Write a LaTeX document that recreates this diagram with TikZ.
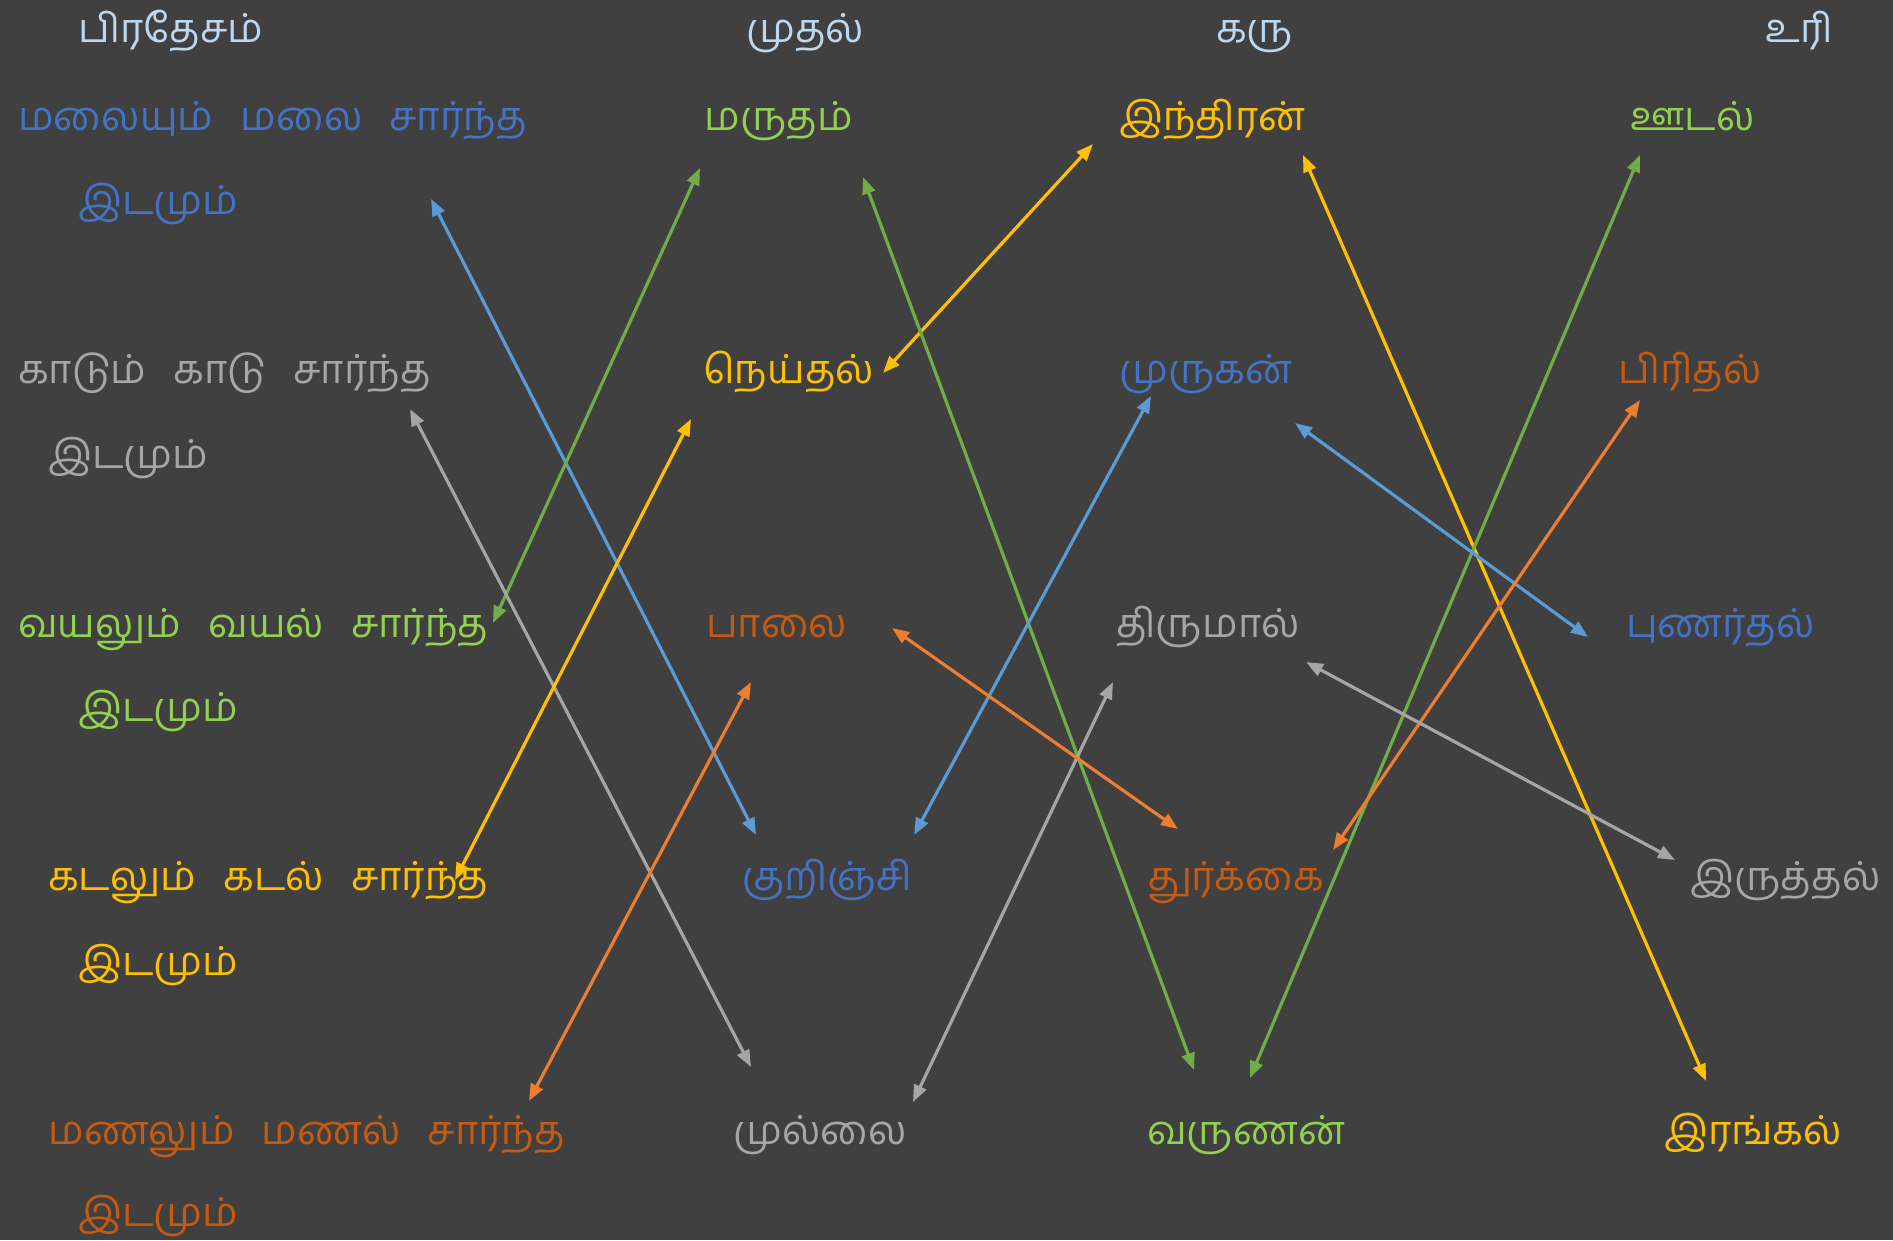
\documentclass[tikz,border=0pt]{standalone}
\usepackage{fontspec}
\newfontfamily\tamil[Script=Tamil]{Hind Madurai}
\usetikzlibrary{arrows.meta}
\definecolor{bg}{HTML}{404040}
\definecolor{hdr}{HTML}{BDD7EE}
\definecolor{tblue}{HTML}{4472C4}
\definecolor{tgreen}{HTML}{92D050}
\definecolor{tgray}{HTML}{A6A6A6}
\definecolor{tyellow}{HTML}{FFC000}
\definecolor{torange}{HTML}{C55A11}
\definecolor{ablue}{HTML}{5B9BD5}
\definecolor{agreen}{HTML}{70AD47}
\definecolor{agray}{HTML}{A5A5A5}
\definecolor{ayellow}{HTML}{FFC000}
\definecolor{aorange}{HTML}{ED7D31}
\newcommand{\gap}{\hspace{27pt}}
\begin{document}
\begin{tikzpicture}[x=1pt,y=-1pt,
  every node/.style={inner sep=0pt, anchor=base west, font=\tamil\fontsize{40}{44}\selectfont},
  link/.style={line width=3.2pt, {Triangle[length=17pt,width=13pt]}-{Triangle[length=17pt,width=13pt]}}]
\fill[bg] (0,0) rectangle (1893,1240);
\useasboundingbox (0,0) rectangle (1893,1240);
% headers
\node[text=hdr] (h1) at (78,42) {பிரதேசம்};
\node[text=hdr] (h2) at (746,42) {முதல்};
\node[text=hdr] (h3) at (1216,42) {கரு};
\node[text=hdr] (h4) at (1765,42) {உரி};
% column 1
\node[text=tblue] (p1a) at (18,130) {மலையும்\gap மலை\gap சார்ந்த};
\node[text=tblue] (p1b) at (78,214) {இடமும்};
\node[text=tgray] (p2a) at (18,383) {காடும்\gap காடு\gap சார்ந்த};
\node[text=tgray] (p2b) at (48,468) {இடமும்};
\node[text=tgreen] (p3a) at (18,637) {வயலும்\gap வயல்\gap சார்ந்த};
\node[text=tgreen] (p3b) at (78,721) {இடமும்};
\node[text=tyellow] (p4a) at (48,890) {கடலும்\gap கடல்\gap சார்ந்த};
\node[text=tyellow] (p4b) at (78,975) {இடமும்};
\node[text=torange] (p5a) at (48,1144) {மணலும்\gap மணல்\gap சார்ந்த};
\node[text=torange] (p5b) at (78,1226) {இடமும்};
% column 2
\node[text=tgreen] (m1) at (704,130) {மருதம்};
\node[text=tyellow] (m2) at (703,383) {நெய்தல்};
\node[text=torange] (m3) at (706,637) {பாலை};
\node[text=tblue] (m4) at (742,890) {குறிஞ்சி};
\node[text=tgray] (m5) at (733,1144) {முல்லை};
% column 3
\node[text=tyellow] (k1) at (1119,130) {இந்திரன்};
\node[text=tblue] (k2) at (1119,383) {முருகன்};
\node[text=tgray] (k3) at (1116,637) {திருமால்};
\node[text=torange] (k4) at (1147,890) {துர்க்கை};
\node[text=tgreen] (k5) at (1147,1144) {வருணன்};
% column 4
\node[text=tgreen] (u1) at (1630,130) {ஊடல்};
\node[text=torange] (u2) at (1618,383) {பிரிதல்};
\node[text=tblue] (u3) at (1626,637) {புணர்தல்};
\node[text=tgray] (u4) at (1690,890) {இருத்தல்};
\node[text=tyellow] (u5) at (1664,1144) {இரங்கல்};
% arrow end points
\coordinate (a1s) at (431,199);  \coordinate (a1e) at (756,835);
\coordinate (a2s) at (700,168);  \coordinate (a2e) at (493,623);
\coordinate (a3s) at (410,409);  \coordinate (a3e) at (751,1067);
\coordinate (a4s) at (691,419);  \coordinate (a4e) at (455,880);
\coordinate (a5s) at (751,682);  \coordinate (a5e) at (529,1101);
\coordinate (a6s) at (1093,144); \coordinate (a6e) at (883,373);
\coordinate (a7s) at (863,177);  \coordinate (a7e) at (1194,1070);
\coordinate (a8s) at (1151,396); \coordinate (a8e) at (914,835);
\coordinate (a9s) at (1113,682); \coordinate (a9e) at (913,1102);
\coordinate (a10s) at (892,628); \coordinate (a10e) at (1178,829);
\coordinate (a11s) at (1303,155);\coordinate (a11e) at (1706,1081);
\coordinate (a12s) at (1640,155);\coordinate (a12e) at (1250,1078);
\coordinate (a13s) at (1295,423);\coordinate (a13e) at (1588,637);
\coordinate (a14s) at (1640,400);\coordinate (a14e) at (1333,850);
\coordinate (a15s) at (1306,662);\coordinate (a15e) at (1675,860);
% arrows
\draw[link, ablue] (a1s) -- (a1e);
\draw[link, agreen] (a2s) -- (a2e);
\draw[link, agray] (a3s) -- (a3e);
\draw[link, ayellow] (a4s) -- (a4e);
\draw[link, aorange] (a5s) -- (a5e);
\draw[link, ayellow] (a6s) -- (a6e);
\draw[link, agreen] (a7s) -- (a7e);
\draw[link, ablue] (a8s) -- (a8e);
\draw[link, agray] (a9s) -- (a9e);
\draw[link, aorange] (a10s) -- (a10e);
\draw[link, ayellow] (a11s) -- (a11e);
\draw[link, agreen] (a12s) -- (a12e);
\draw[link, ablue] (a13s) -- (a13e);
\draw[link, aorange] (a14s) -- (a14e);
\draw[link, agray] (a15s) -- (a15e);
\end{tikzpicture}
\end{document}
